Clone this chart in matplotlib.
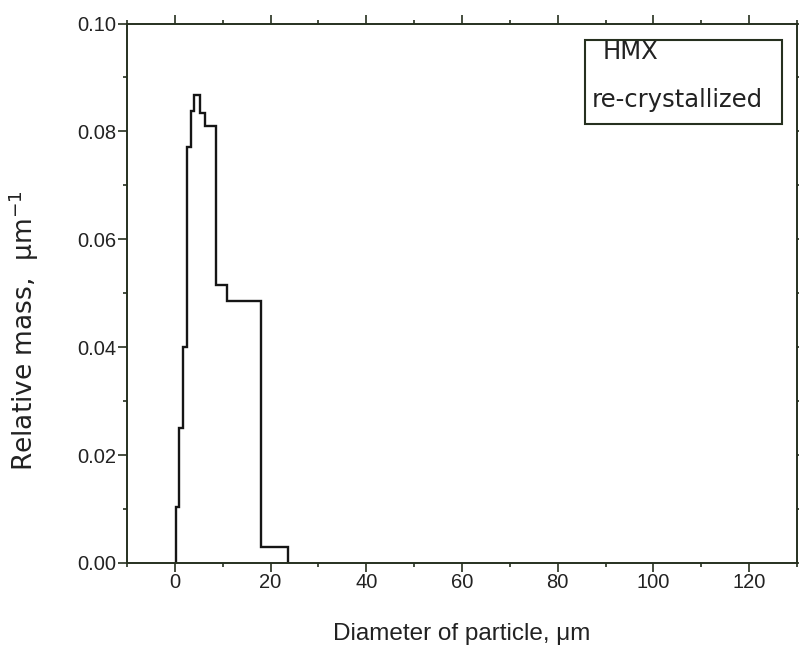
import matplotlib
matplotlib.use("Agg")
import matplotlib.pyplot as plt
from matplotlib.patches import Rectangle
from matplotlib.ticker import MultipleLocator, FormatStrFormatter

# Histogram bin edges (diameter, um) and relative mass per bin (1/um)
bin_edges = [0.2, 0.9, 1.7, 2.5, 3.4, 3.9, 5.2, 6.4, 8.6, 10.9, 17.9, 23.6]
rel_mass = [0.0104, 0.025, 0.040, 0.0772, 0.0837, 0.0868, 0.0834, 0.0810,
            0.0516, 0.0485, 0.0030]

legend_lines = ["HMX", "re-crystallized"]

spine_col = "#26301f"
text_col = "#222222"

fig = plt.figure(figsize=(7.99, 6.5), dpi=100)
ax = fig.add_axes([127/799, 1 - 563/650, 670/799, 539.5/650])

ax.stairs(rel_mass, bin_edges, baseline=0, fill=False, color="#151515", linewidth=1.7)

ax.set_xlim(-10, 130)
ax.set_ylim(0, 0.10)
ax.xaxis.set_major_locator(MultipleLocator(20))
ax.xaxis.set_minor_locator(MultipleLocator(10))
ax.yaxis.set_major_locator(MultipleLocator(0.02))
ax.yaxis.set_minor_locator(MultipleLocator(0.01))
ax.yaxis.set_major_formatter(FormatStrFormatter("%.2f"))

for s in ax.spines.values():
    s.set_color(spine_col)
    s.set_linewidth(1.4)

ax.tick_params(which="both", direction="out", top=True, right=True,
               color=spine_col, width=1.2, labelcolor=text_col)
ax.tick_params(which="major", length=6.5, labelsize=14.5, pad=1.0)
ax.tick_params(which="minor", length=3.2)
for lab in ax.get_xticklabels() + ax.get_yticklabels():
    lab.set_family("Liberation Sans")

ax.set_xlabel("Diameter of particle, μm", fontsize=17.5, family="Liberation Sans",
              color=text_col, labelpad=22)
ax.set_ylabel("Relative mass,  μm$^{-1}$", fontsize=19, family="DejaVu Sans",
              color=text_col)
ax.yaxis.set_label_coords((41 - 127) / 670, (563 - 331) / 539.5)

# legend box
x0 = (585 - 127) / 670
x1 = (782 - 127) / 670
y1 = (563 - 40) / 539.5
y0 = (563 - 124) / 539.5
ax.add_patch(Rectangle((x0, y0), x1 - x0, y1 - y0, transform=ax.transAxes,
                       fill=False, edgecolor=spine_col, linewidth=1.5))
ax.text((603 - 127) / 670, (563 - 52) / 539.5, legend_lines[0], transform=ax.transAxes,
        ha="left", va="center", fontsize=17.5, family="DejaVu Sans", color=text_col)
ax.text((592 - 127) / 670, (563 - 100) / 539.5, legend_lines[1], transform=ax.transAxes,
        ha="left", va="center", fontsize=17.5, family="DejaVu Sans", color=text_col)

fig.savefig("out.png", dpi=100)
